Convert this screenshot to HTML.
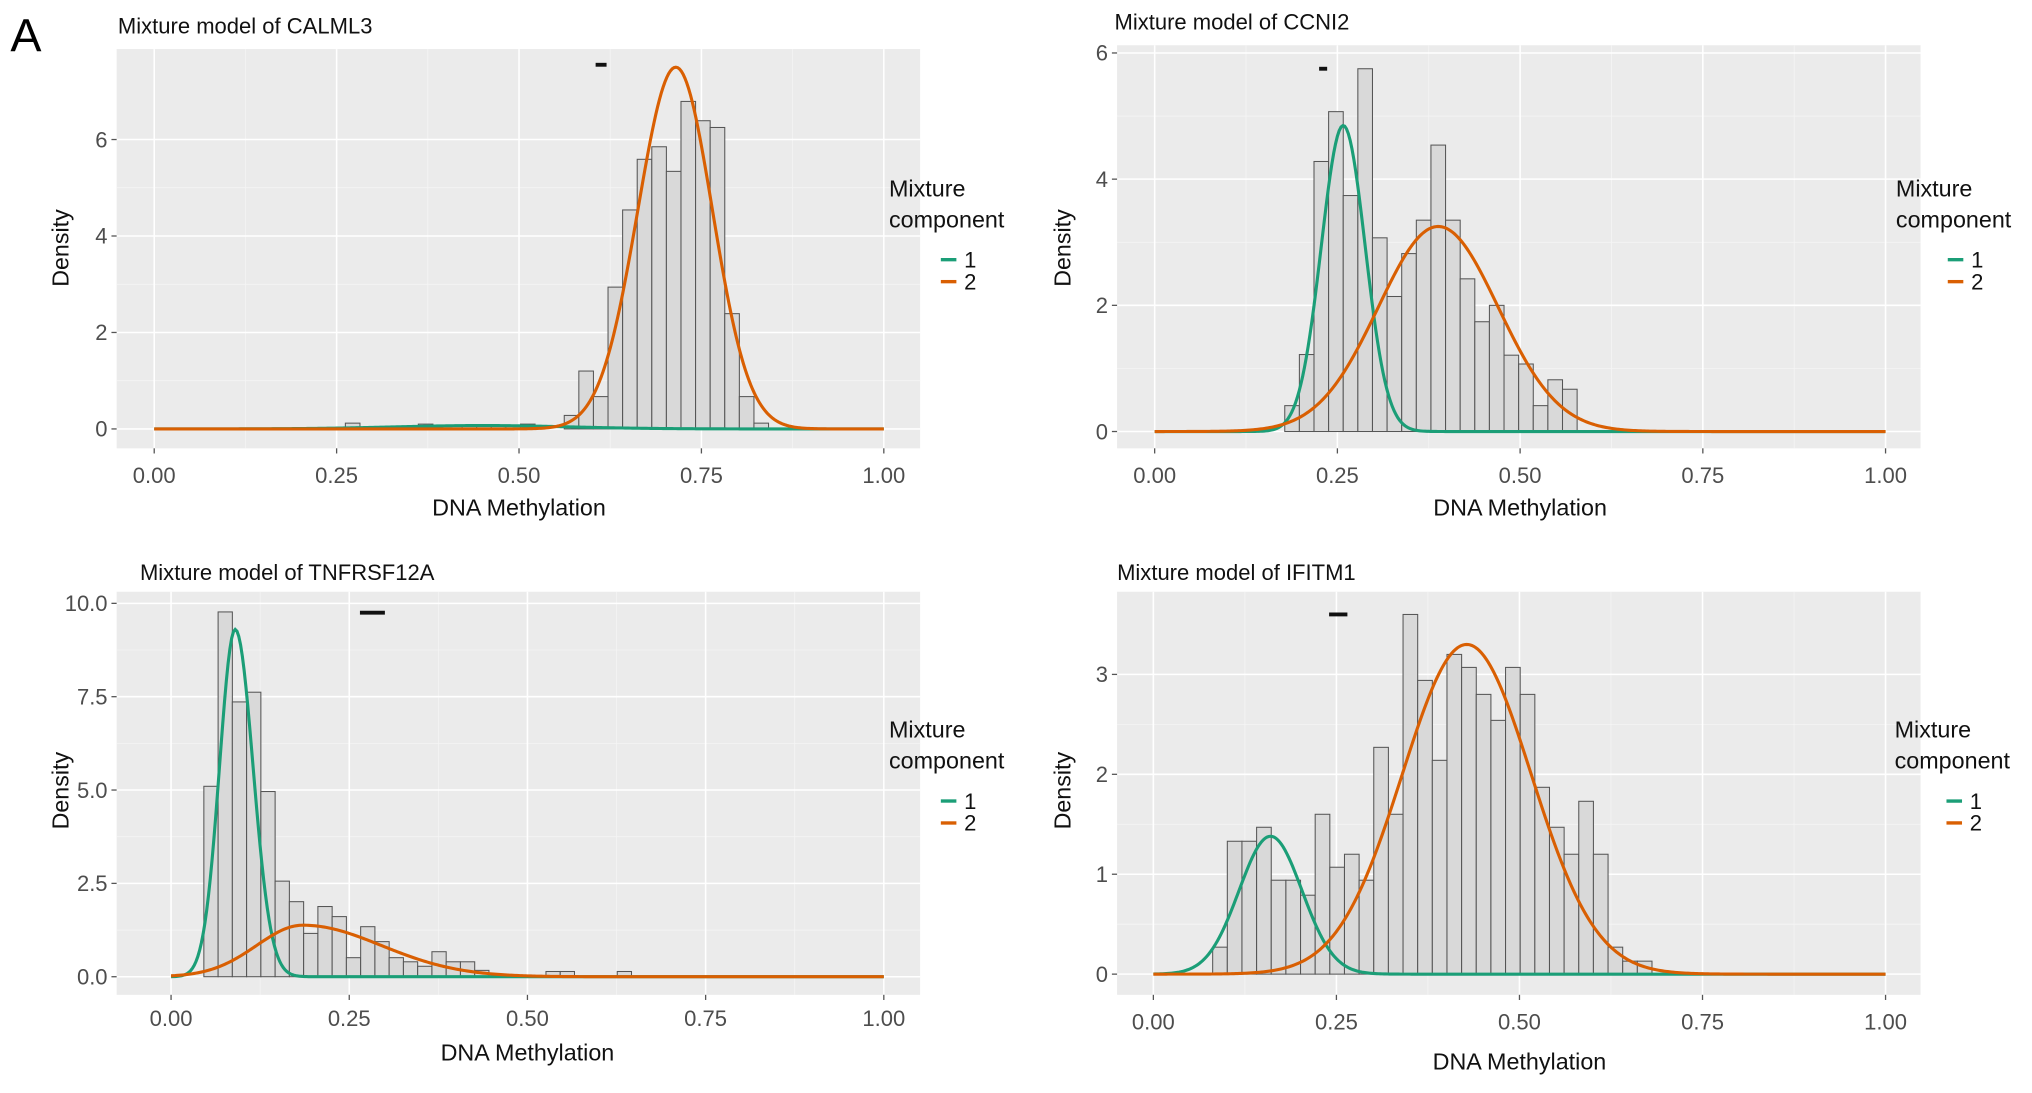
<!DOCTYPE html>
<html><head><meta charset="utf-8"><style>
html,body{margin:0;padding:0;background:#fff}
svg{display:block;font-family:"Liberation Sans",sans-serif}
</style></head><body>
<svg id="fig" width="2032" height="1093" viewBox="0 0 1568 846" preserveAspectRatio="none" xmlns="http://www.w3.org/2000/svg">
<text x="8" y="40" font-size="36" fill="#000">A</text>
</svg>
<script>
// ---- data ----
const binWidth = 0.02;
const calml3BinStarts = [0.262,0.362,0.422,0.442,0.462,0.502,0.562,0.582,0.602,0.622,0.642,0.662,0.682,0.702,0.722,0.742,0.762,0.782,0.802,0.822];
const calml3Density   = [0.12,0.10,0.08,0.08,0.08,0.10,0.28,1.2,0.67,2.94,4.54,5.59,5.85,5.34,6.79,6.39,6.25,2.39,0.67,0.12];
const calml3Means = [0.45,0.715];
const calml3SdsLeft  = [0.12,0.052];
const calml3SdsRight = [0.12,0.050];
const calml3Peaks = [0.07,7.5];
const calml3Ci = [0.605,0.62,7.55];
const calml3YTicks = [0,2,4,6];
const calml3YLabels = ["0","2","4","6"];

const ccni2BinStarts = [0.178,0.198,0.218,0.238,0.258,0.278,0.298,0.318,0.338,0.358,0.378,0.398,0.418,0.438,0.458,0.478,0.498,0.518,0.538,0.558];
const ccni2Density   = [0.41,1.22,4.28,5.07,3.74,5.75,3.07,2.14,2.82,3.35,4.54,3.35,2.42,1.74,2.0,1.21,1.07,0.41,0.82,0.67];
const ccni2Means = [0.258,0.388];
const ccni2SdsLeft  = [0.03,0.082];
const ccni2SdsRight = [0.03,0.082];
const ccni2Peaks = [4.85,3.25];
const ccni2Ci = [0.225,0.236,5.75];
const ccni2YTicks = [0,2,4,6];
const ccni2YLabels = ["0","2","4","6"];

const tnfBinStarts = [0.046,0.066,0.086,0.106,0.126,0.146,0.166,0.186,0.206,0.226,0.246,0.266,0.286,0.306,0.326,0.346,0.366,0.386,0.406,0.426,0.526,0.546,0.626];
const tnfDensity   = [5.1,9.77,7.36,7.62,4.96,2.56,2.01,1.16,1.88,1.61,0.51,1.34,0.94,0.51,0.40,0.28,0.67,0.40,0.40,0.17,0.14,0.14,0.14];
const tnfMeans = [0.09,0.185];
const tnfSdsLeft  = [0.022,0.065];
const tnfSdsRight = [0.025,0.11];
const tnfPeaks = [9.3,1.38];
const tnfCi = [0.265,0.3,9.75];
const tnfYTicks = [0,2.5,5,7.5,10];
const tnfYLabels = ["0.0","2.5","5.0","7.5","10.0"];

const ifitmBinStarts = [0.081,0.101,0.121,0.141,0.161,0.181,0.201,0.221,0.241,0.261,0.281,0.301,0.321,0.341,0.361,0.381,0.401,0.421,0.441,0.461,0.481,0.501,0.521,0.541,0.561,0.581,0.601,0.621,0.641,0.661];
const ifitmDensity   = [0.27,1.33,1.33,1.47,0.94,0.94,0.79,1.6,1.07,1.2,0.94,2.27,1.6,3.6,2.94,2.14,3.2,3.07,2.8,2.54,3.07,2.8,1.87,1.47,1.2,1.73,1.2,0.27,0.13,0.13];
const ifitmMeans = [0.16,0.428];
const ifitmSdsLeft  = [0.043,0.088];
const ifitmSdsRight = [0.043,0.088];
const ifitmPeaks = [1.38,3.3];
const ifitmCi = [0.24,0.265,3.6];
const ifitmYTicks = [0,1,2,3];
const ifitmYLabels = ["0","1","2","3"];

const xTicks = [0,0.25,0.5,0.75,1];
const xLabels = ["0.00","0.25","0.50","0.75","1.00"];
const legendLabels = ["1","2"];

// ---- drawing ----
const NS="http://www.w3.org/2000/svg";
const svg=document.getElementById('fig');
const colors=["#1b9e77","#d95f02"];
function mk(tag,attrs,parent,text){const e=document.createElementNS(NS,tag);for(const k in attrs)e.setAttribute(k,attrs[k]);if(text!==undefined)e.textContent=text;parent.appendChild(e);return e;}

function panel(g){
  const root=mk('g',{},svg);
  
  
  const X=v=>g.x0+(v)*(g.x1-g.x0);
  const Y=v=>g.y0-(v-g.yb0)*(g.y0-g.ytop)/(g.yt-g.yb0);
  const bg=mk('rect',{x:g.L,y:g.T,width:g.R-g.L,height:g.B-g.T,fill:"#ebebeb"},root);
  
  
  for(let i=0;i<xTicks.length-1;i++){const v=(xTicks[i]+xTicks[i+1])/2;mk('line',{x1:X(v),x2:X(v),y1:g.T,y2:g.B,stroke:"#f5f5f5","stroke-width":0.6},root);}
  for(let i=0;i<g.yTicks.length-1;i++){const v=(g.yTicks[i]+g.yTicks[i+1])/2;mk('line',{x1:g.L,x2:g.R,y1:Y(v),y2:Y(v),stroke:"#f5f5f5","stroke-width":0.6},root);}
  xTicks.forEach((v,i)=>{
    mk('line',{x1:X(v),x2:X(v),y1:g.T,y2:g.B,stroke:"#fff","stroke-width":1.2},root);
    mk('line',{x1:X(v),x2:X(v),y1:g.B,y2:g.B+4,stroke:"#555","stroke-width":1},root);
    const t=mk('text',{x:X(v),y:g.xLabY,"font-size":17,fill:"#4d4d4d","text-anchor":"middle"},root,xLabels[i]);
    
    
  });
  g.yTicks.forEach((v,i)=>{
    mk('line',{x1:g.L,x2:g.R,y1:Y(v),y2:Y(v),stroke:"#fff","stroke-width":1.2},root);
    mk('line',{x1:g.L-4,x2:g.L,y1:Y(v),y2:Y(v),stroke:"#555","stroke-width":1},root);
    const t=mk('text',{x:g.L-7,y:Y(v)+6,"font-size":17,fill:"#4d4d4d","text-anchor":"end"},root,g.yLabels[i]);
    
    
  });
  g.starts.forEach((s,i)=>{
    const r=mk('rect',{x:X(s),y:Y(g.dens[i]),width:X(s+binWidth)-X(s),height:Y(0)-Y(g.dens[i]),fill:"#d9d9d9",stroke:"#555","stroke-width":0.8},root);
    
    
  });
  for(let c=0;c<2;c++){
    let d="";
    for(let k=0;k<=400;k++){const v=k/400;const sd=v<g.means[c]?g.sdL[c]:g.sdR[c];const yv=g.peaks[c]*Math.exp(-0.5*Math.pow((v-g.means[c])/sd,2));d+=(k?"L":"M")+X(v).toFixed(2)+","+Y(yv).toFixed(2);}
    const p=mk('path',{d:d,fill:"none",stroke:colors[c],"stroke-width":2.4},root);
    
    
  }
  const ci=mk('line',{x1:X(g.ci[0]),x2:X(g.ci[1]),y1:Y(g.ci[2]),y2:Y(g.ci[2]),stroke:"#111","stroke-width":3},root);
  
  
  const ti=mk('text',{x:g.titleX,y:g.titleY,"font-size":17,fill:"#111"},root,g.title);
  
  
  const xt=mk('text',{x:(X(0)+X(1))/2,y:g.xTitleY,"font-size":18,fill:"#111","text-anchor":"middle"},root,"DNA Methylation");
  
  
  const yt=mk('text',{x:0,y:0,"font-size":18,fill:"#111","text-anchor":"middle",transform:`translate(${g.yTitleX},${g.yTitleY}) rotate(-90)`},root,"Density");
  
  
  const lg=mk('g',{},root);
  
  
  mk('text',{x:g.legX,y:g.legY,"font-size":18,fill:"#111"},lg,"Mixture");
  mk('text',{x:g.legX,y:g.legY+24,"font-size":18,fill:"#111"},lg,"component");
  legendLabels.forEach((l,i)=>{
    const yy=g.legY+49+i*17;
    const e=mk('g',{},lg);
    
    
    mk('line',{x1:g.legX+40,x2:g.legX+52,y1:yy,y2:yy,stroke:colors[i],"stroke-width":2.6},e);
    mk('text',{x:g.legX+58,y:yy+6,"font-size":17,fill:"#111"},e,l);
  });
}

panel({id:'calml3',title:'Mixture model of CALML3',L:90,R:710,T:38,B:347,x0:119,x1:682,y0:332,ytop:108,yb0:0,yt:6,
  yTicks:calml3YTicks,yLabels:calml3YLabels,starts:calml3BinStarts,dens:calml3Density,means:calml3Means,sdL:calml3SdsLeft,sdR:calml3SdsRight,peaks:calml3Peaks,ci:calml3Ci,
  titleX:91,titleY:26,xLabY:374,xTitleY:399,yTitleX:53,yTitleY:192,legX:686,legY:152});
panel({id:'ccni2',title:'Mixture model of CCNI2',L:862,R:1482,T:35,B:347,x0:891,x1:1455,y0:334,ytop:41,yb0:0,yt:6,
  yTicks:ccni2YTicks,yLabels:ccni2YLabels,starts:ccni2BinStarts,dens:ccni2Density,means:ccni2Means,sdL:ccni2SdsLeft,sdR:ccni2SdsRight,peaks:ccni2Peaks,ci:ccni2Ci,
  titleX:860,titleY:23,xLabY:374,xTitleY:399,yTitleX:826,yTitleY:192,legX:1463,legY:152});
panel({id:'tnfrsf12a',title:'Mixture model of TNFRSF12A',L:90,R:710,T:458,B:770,x0:132,x1:682,y0:756,ytop:467,yb0:0,yt:10,
  yTicks:tnfYTicks,yLabels:tnfYLabels,starts:tnfBinStarts,dens:tnfDensity,means:tnfMeans,sdL:tnfSdsLeft,sdR:tnfSdsRight,peaks:tnfPeaks,ci:tnfCi,
  titleX:108,titleY:449,xLabY:794,xTitleY:821,yTitleX:53,yTitleY:612,legX:686,legY:571});
panel({id:'ifitm1',title:'Mixture model of IFITM1',L:862,R:1482,T:458,B:770,x0:890,x1:1455,y0:754,ytop:522,yb0:0,yt:3,
  yTicks:ifitmYTicks,yLabels:ifitmYLabels,starts:ifitmBinStarts,dens:ifitmDensity,means:ifitmMeans,sdL:ifitmSdsLeft,sdR:ifitmSdsRight,peaks:ifitmPeaks,ci:ifitmCi,
  titleX:862,titleY:449,xLabY:797,xTitleY:828,yTitleX:826,yTitleY:612,legX:1462,legY:571});
</script>
</body></html>
